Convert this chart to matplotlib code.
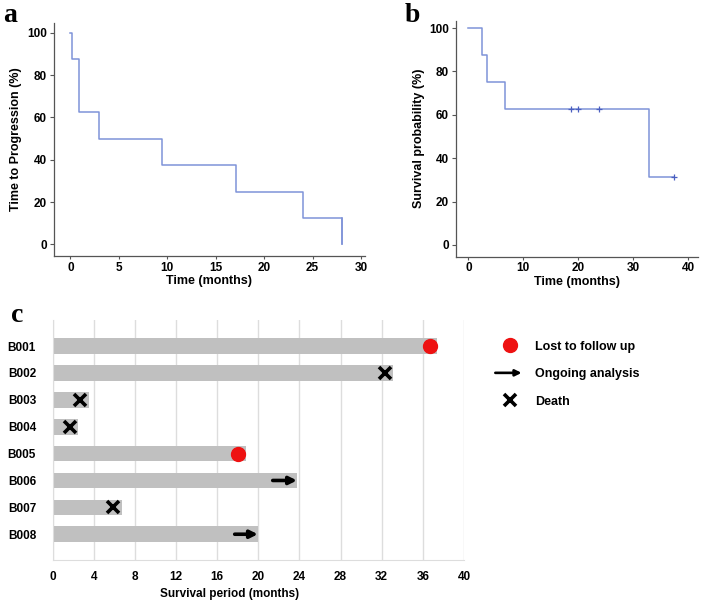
import matplotlib.pyplot as plt
from matplotlib.lines import Line2D
from matplotlib.patches import FancyArrowPatch
from matplotlib.legend_handler import HandlerBase
import numpy as np

plt.rcParams['font.family'] = ['Liberation Sans', 'DejaVu Sans']
plt.rcParams['font.weight'] = 'bold'

# panel a - time to progression (KM steps)
ttp_times = [0.0, 0.2, 0.9, 2.95, 9.5, 17.1, 24.0, 28.0]
ttp_surv = [100, 87.5, 62.5, 50, 37.5, 25, 12.5, 0]

# panel b - overall survival
os_times = [0.0, 2.4, 3.45, 6.7, 32.9, 37.3]
os_surv = [100, 87.5, 75, 62.5, 31.25, 31.25]
os_censor_t = [18.6, 20.0, 23.7, 37.3]
os_censor_s = [62.5, 62.5, 62.5, 31.25]

# panel c - swimmer plot
patients = ['B001', 'B002', 'B003', 'B004', 'B005', 'B006', 'B007', 'B008']
period = [37.4, 33.1, 3.5, 2.5, 18.8, 23.8, 6.7, 20.0]
event = ['lost', 'death', 'death', 'death', 'lost', 'ongoing', 'death', 'ongoing']
event_t = [36.7, 32.3, 2.65, 1.7, 18.05, 21.4, 5.9, 17.7]

line_col = '#7f93d8'


class ArrowHandler(HandlerBase):
    def create_artists(self, legend, orig_handle, xdescent, ydescent,
                       width, height, fontsize, trans):
        y0 = height / 2 - ydescent
        a = FancyArrowPatch((-xdescent - width * 0.1, y0), (-xdescent + width * 0.95, y0),
                            arrowstyle='-|>', mutation_scale=9, lw=1.9, color='black',
                            shrinkA=0, shrinkB=0, transform=trans)
        return [a]


fig = plt.figure(figsize=(7.08, 6.04), dpi=100)

def km_axis(ax):
    for s in ['top', 'right']:
        ax.spines[s].set_visible(False)
    for s in ['left', 'bottom']:
        ax.spines[s].set_color('#555555')
        ax.spines[s].set_linewidth(0.9)
    ax.tick_params(labelsize=8.5, length=3, width=0.8, color='#555555', pad=2)
    ax.tick_params(axis='x', length=2)
    ax.set_yticks([0, 20, 40, 60, 80, 100])

ax1 = fig.add_axes([0.0763, 0.576, 0.439, 0.386])
ax1.step(ttp_times, ttp_surv, where='post', color=line_col, lw=1.1)
ax1.plot([ttp_times[-1], ttp_times[-1]], [ttp_surv[-2], ttp_surv[-1]], color=line_col, lw=1.1)
ax1.set_xlim(-1.7, 30.4)
ax1.set_ylim(-5.5, 104.6)
ax1.set_xticks([0, 5, 10, 15, 20, 25, 30])
km_axis(ax1)
ax1.set_xlabel('Time (months)', fontsize=9, fontweight='bold', labelpad=1)
ax1.set_ylabel('Time to Progression (%)', fontsize=9, fontweight='bold', labelpad=4)

ax2 = fig.add_axes([0.6436, 0.575, 0.3427, 0.3907])
ax2.step(os_times, os_surv, where='post', color=line_col, lw=1.1)
ax2.plot(os_censor_t, os_censor_s, '+', color='#4a5fc0', ms=4, mew=0.9)
ax2.set_xlim(-2.3, 41.8)
ax2.set_ylim(-5.4, 103.4)
ax2.set_xticks([0, 10, 20, 30, 40])
km_axis(ax2)
ax2.set_xlabel('Time (months)', fontsize=9, fontweight='bold', labelpad=1)
ax2.set_ylabel('Survival probability (%)', fontsize=9, fontweight='bold', labelpad=3)

ax3 = fig.add_axes([0.0744, 0.0728, 0.581, 0.3974])
y = np.arange(len(patients))
ax3.barh(y, period, height=0.58, color='#c0c0c0', zorder=2)
for yi, ev, t, p in zip(y, event, event_t, period):
    if ev == 'lost':
        ax3.plot(t, yi, 'o', color='#ee1111', ms=10, zorder=3)
    elif ev == 'death':
        ax3.plot(t, yi, 'x', color='black', ms=9, mew=2.6, zorder=3)
    else:
        ax3.annotate('', xy=(p - 0.05, yi), xytext=(t, yi), zorder=3,
                     arrowprops=dict(arrowstyle='-|>', color='black', lw=2.6,
                                     mutation_scale=11, shrinkA=0, shrinkB=0))
ax3.set_ylim(7.96, -0.97)
ax3.set_xlim(0, 40)
ax3.set_xticks(np.arange(0, 41, 4))
ax3.set_yticks(y)
ax3.set_yticklabels(patients)
ax3.grid(axis='x', color='#dddddd', lw=1, zorder=0)
for s in ['top', 'right']:
    ax3.spines[s].set_visible(False)
for s in ['left', 'bottom']:
    ax3.spines[s].set_color('#dddddd')
ax3.tick_params(labelsize=8.5, length=0, pad=8)
ax3.tick_params(axis='y', pad=12)
ax3.set_xlabel('Survival period (months)', fontsize=8.5, fontweight='bold')
ax3.xaxis.set_label_coords(0.43, -0.115)

arrow_handle = Line2D([], [])
handles = [
    Line2D([], [], marker='o', color='#ee1111', ls='', ms=10),
    arrow_handle,
    Line2D([], [], marker='x', color='black', ls='', ms=9, mew=2.6),
]
ax3.legend(handles, ['Lost to follow up', 'Ongoing analysis', 'Death'],
           loc='upper left', bbox_to_anchor=(1.07, 0.935), frameon=False,
           fontsize=9, handlelength=2.0, handletextpad=1.0, labelspacing=1.25,
           borderaxespad=0, handler_map={arrow_handle: ArrowHandler()})

fig.text(0.005, 0.995, 'a', family='Liberation Serif', fontsize=20, fontweight='bold', va='top')
fig.text(0.572, 0.995, 'b', family='Liberation Serif', fontsize=20, fontweight='bold', va='top')
fig.text(0.015, 0.498, 'c', family='Liberation Serif', fontsize=20, fontweight='bold', va='top')

fig.savefig('out.png', dpi=100)
